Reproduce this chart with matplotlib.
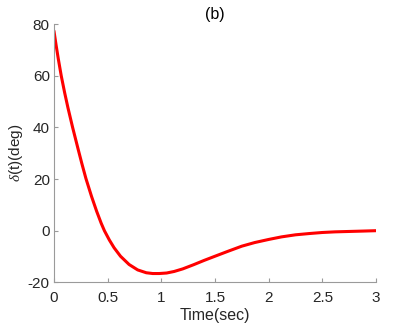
import matplotlib
matplotlib.use("Agg")
import matplotlib.pyplot as plt

plt.rcParams['font.family'] = ['Liberation Sans', 'DejaVu Sans']
plt.rcParams['axes.unicode_minus'] = False
plt.rcParams['mathtext.fontset'] = 'custom'
plt.rcParams['mathtext.it'] = 'Liberation Serif:italic'

time_s = [0.00, 0.02, 0.04, 0.068, 0.10, 0.13, 0.174, 0.227, 0.26, 0.298, 0.35, 0.398,
          0.44, 0.47, 0.516, 0.56, 0.62, 0.70, 0.78, 0.86, 0.92, 0.98, 1.05, 1.12,
          1.20, 1.30, 1.40, 1.50, 1.62, 1.75, 1.87, 2.00, 2.12, 2.25, 2.38, 2.50,
          2.62, 2.75, 2.88, 3.00]
delta_deg = [77.4, 71.9, 66.7, 60.0, 53.4, 47.7, 40.0, 31.3, 26.0, 20.2, 13.3, 7.5,
             2.9, 0.0, -3.6, -6.6, -9.9, -13.1, -15.2, -16.3, -16.6, -16.6, -16.4, -15.8,
             -14.8, -13.2, -11.5, -9.9, -8.0, -6.0, -4.6, -3.4, -2.4, -1.6, -1.1, -0.7,
             -0.45, -0.3, -0.15, 0.0]
x_ticks = [0, 0.5, 1, 1.5, 2, 2.5, 3]
x_tick_labels = ['0', '0.5', '1', '1.5', '2', '2.5', '3']
y_ticks = [-20, 0, 20, 40, 60, 80]

fig = plt.figure(figsize=(4.15, 3.23), dpi=100)
ax = fig.add_axes([0.130, 0.126, 0.776, 0.799])
ax.plot(time_s, delta_deg, color='#ff0000', lw=2.2, solid_capstyle='round',
        solid_joinstyle='round')
ax.set_xlim(0, 3)
ax.set_ylim(-20, 80)
ax.set_xticks(x_ticks)
ax.set_xticklabels(x_tick_labels)
ax.set_yticks(y_ticks)
gray = '#262626'
for s in ['top', 'right']:
    ax.spines[s].set_visible(False)
for s in ['left', 'bottom']:
    ax.spines[s].set_color('#9a9a9a')
    ax.spines[s].set_linewidth(0.8)
ax.tick_params(direction='in', length=3, width=0.8, color='#9a9a9a',
               labelcolor=gray, labelsize=11)
ax.tick_params(axis='x', pad=6)
ax.tick_params(axis='y', pad=3)
ax.set_xlabel('Time(sec)', fontsize=11.5, color=gray, labelpad=2.5)
ax.set_ylabel(r'$\delta$(t)(deg)', fontsize=11, color=gray, labelpad=2)
ax.set_title('(b)', fontsize=11.5, color='black', pad=4)
fig.savefig('out.png', dpi=100, facecolor='white')
